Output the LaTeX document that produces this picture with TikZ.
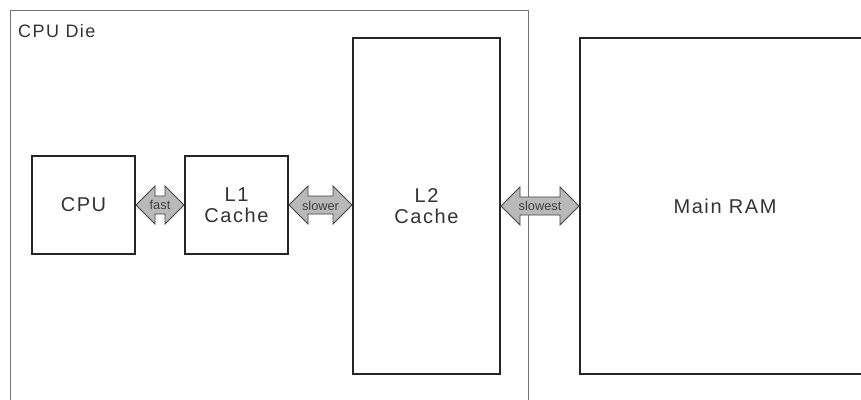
\documentclass[tikz,border=0pt]{standalone}
\usepackage{fontspec}
\setmainfont{Liberation Sans}
\newfontfamily\spacedfont[LetterSpace=8]{Liberation Sans}
\usetikzlibrary{calc}

\begin{document}
\begin{tikzpicture}[
    x=1pt, y=-1pt,
    unit/.style={draw=black!85, line width=2pt, align=center, inner sep=0pt, text=black!80, font=\spacedfont\fontsize{20}{21.5}\selectfont},
    die/.style={draw=black!55, line width=1pt, inner sep=0pt},
    die_label/.style={text=black!80, font=\spacedfont\fontsize{18}{20}\selectfont, inner sep=0pt},
    link/.style={draw=black!75, fill=gray!55, line width=0.8pt, line join=miter},
    link_label/.style={text=black!75, font=\fontsize{12.8}{14}\selectfont, inner sep=0pt}
]

\useasboundingbox (0,0) rectangle (861,399);

% --- Chip ---
\node[die, anchor=north west, minimum width=518pt, minimum height=420pt] (die) at (10,10) {};
\node[die_label, anchor=base west] (dielbl) at (18,37) {CPU Die};

% --- Bloques ---
\node[unit, anchor=north west, minimum width=103pt, minimum height=98pt] (cpu) at (31,155) {CPU};
\node[unit, anchor=north west, minimum width=103pt, minimum height=98pt] (lone) at (184,155) {L1\\Cache};
\node[unit, anchor=north west, minimum width=147pt, minimum height=336pt] (ltwo) at (352,37) {L2\\Cache};
\node[unit, anchor=north west, minimum width=290pt, minimum height=336pt] (ram) at (579,37) {Main RAM};

% --- Flechas dobles ---
\draw[link] let \p1=(cpu.east), \p2=(lone.west) in
  (\x1,\y1) -- (\x1+19pt,\y1+19pt) -- (\x1+19pt,\y1+9pt) -- (\x2-19pt,\y1+9pt) -- (\x2-19pt,\y1+19pt) -- (\x2,\y1)
  -- (\x2-19pt,\y1-19pt) -- (\x2-19pt,\y1-9pt) -- (\x1+19pt,\y1-9pt) -- (\x1+19pt,\y1-19pt) -- cycle;
\node[link_label] (fastlbl) at ($(cpu.east)!0.5!(lone.west)$) {fast};

\draw[link] let \p1=(lone.east), \p2=(ltwo.west) in
  (\x1,\y1) -- (\x1+19pt,\y1+19pt) -- (\x1+19pt,\y1+9pt) -- (\x2-19pt,\y1+9pt) -- (\x2-19pt,\y1+19pt) -- (\x2,\y1)
  -- (\x2-19pt,\y1-19pt) -- (\x2-19pt,\y1-9pt) -- (\x1+19pt,\y1-9pt) -- (\x1+19pt,\y1-19pt) -- cycle;
\node[link_label] (slowerlbl) at ($(lone.east)!0.5!(ltwo.west)$) {slower};

\draw[link] let \p1=(ltwo.east), \p2=(ram.west) in
  (\x1,\y1) -- (\x1+19pt,\y1+19pt) -- (\x1+19pt,\y1+9pt) -- (\x2-19pt,\y1+9pt) -- (\x2-19pt,\y1+19pt) -- (\x2,\y1)
  -- (\x2-19pt,\y1-19pt) -- (\x2-19pt,\y1-9pt) -- (\x1+19pt,\y1-9pt) -- (\x1+19pt,\y1-19pt) -- cycle;
\node[link_label] (slowestlbl) at ($(ltwo.east)!0.5!(ram.west)$) {slowest};

\end{tikzpicture}
\end{document}
